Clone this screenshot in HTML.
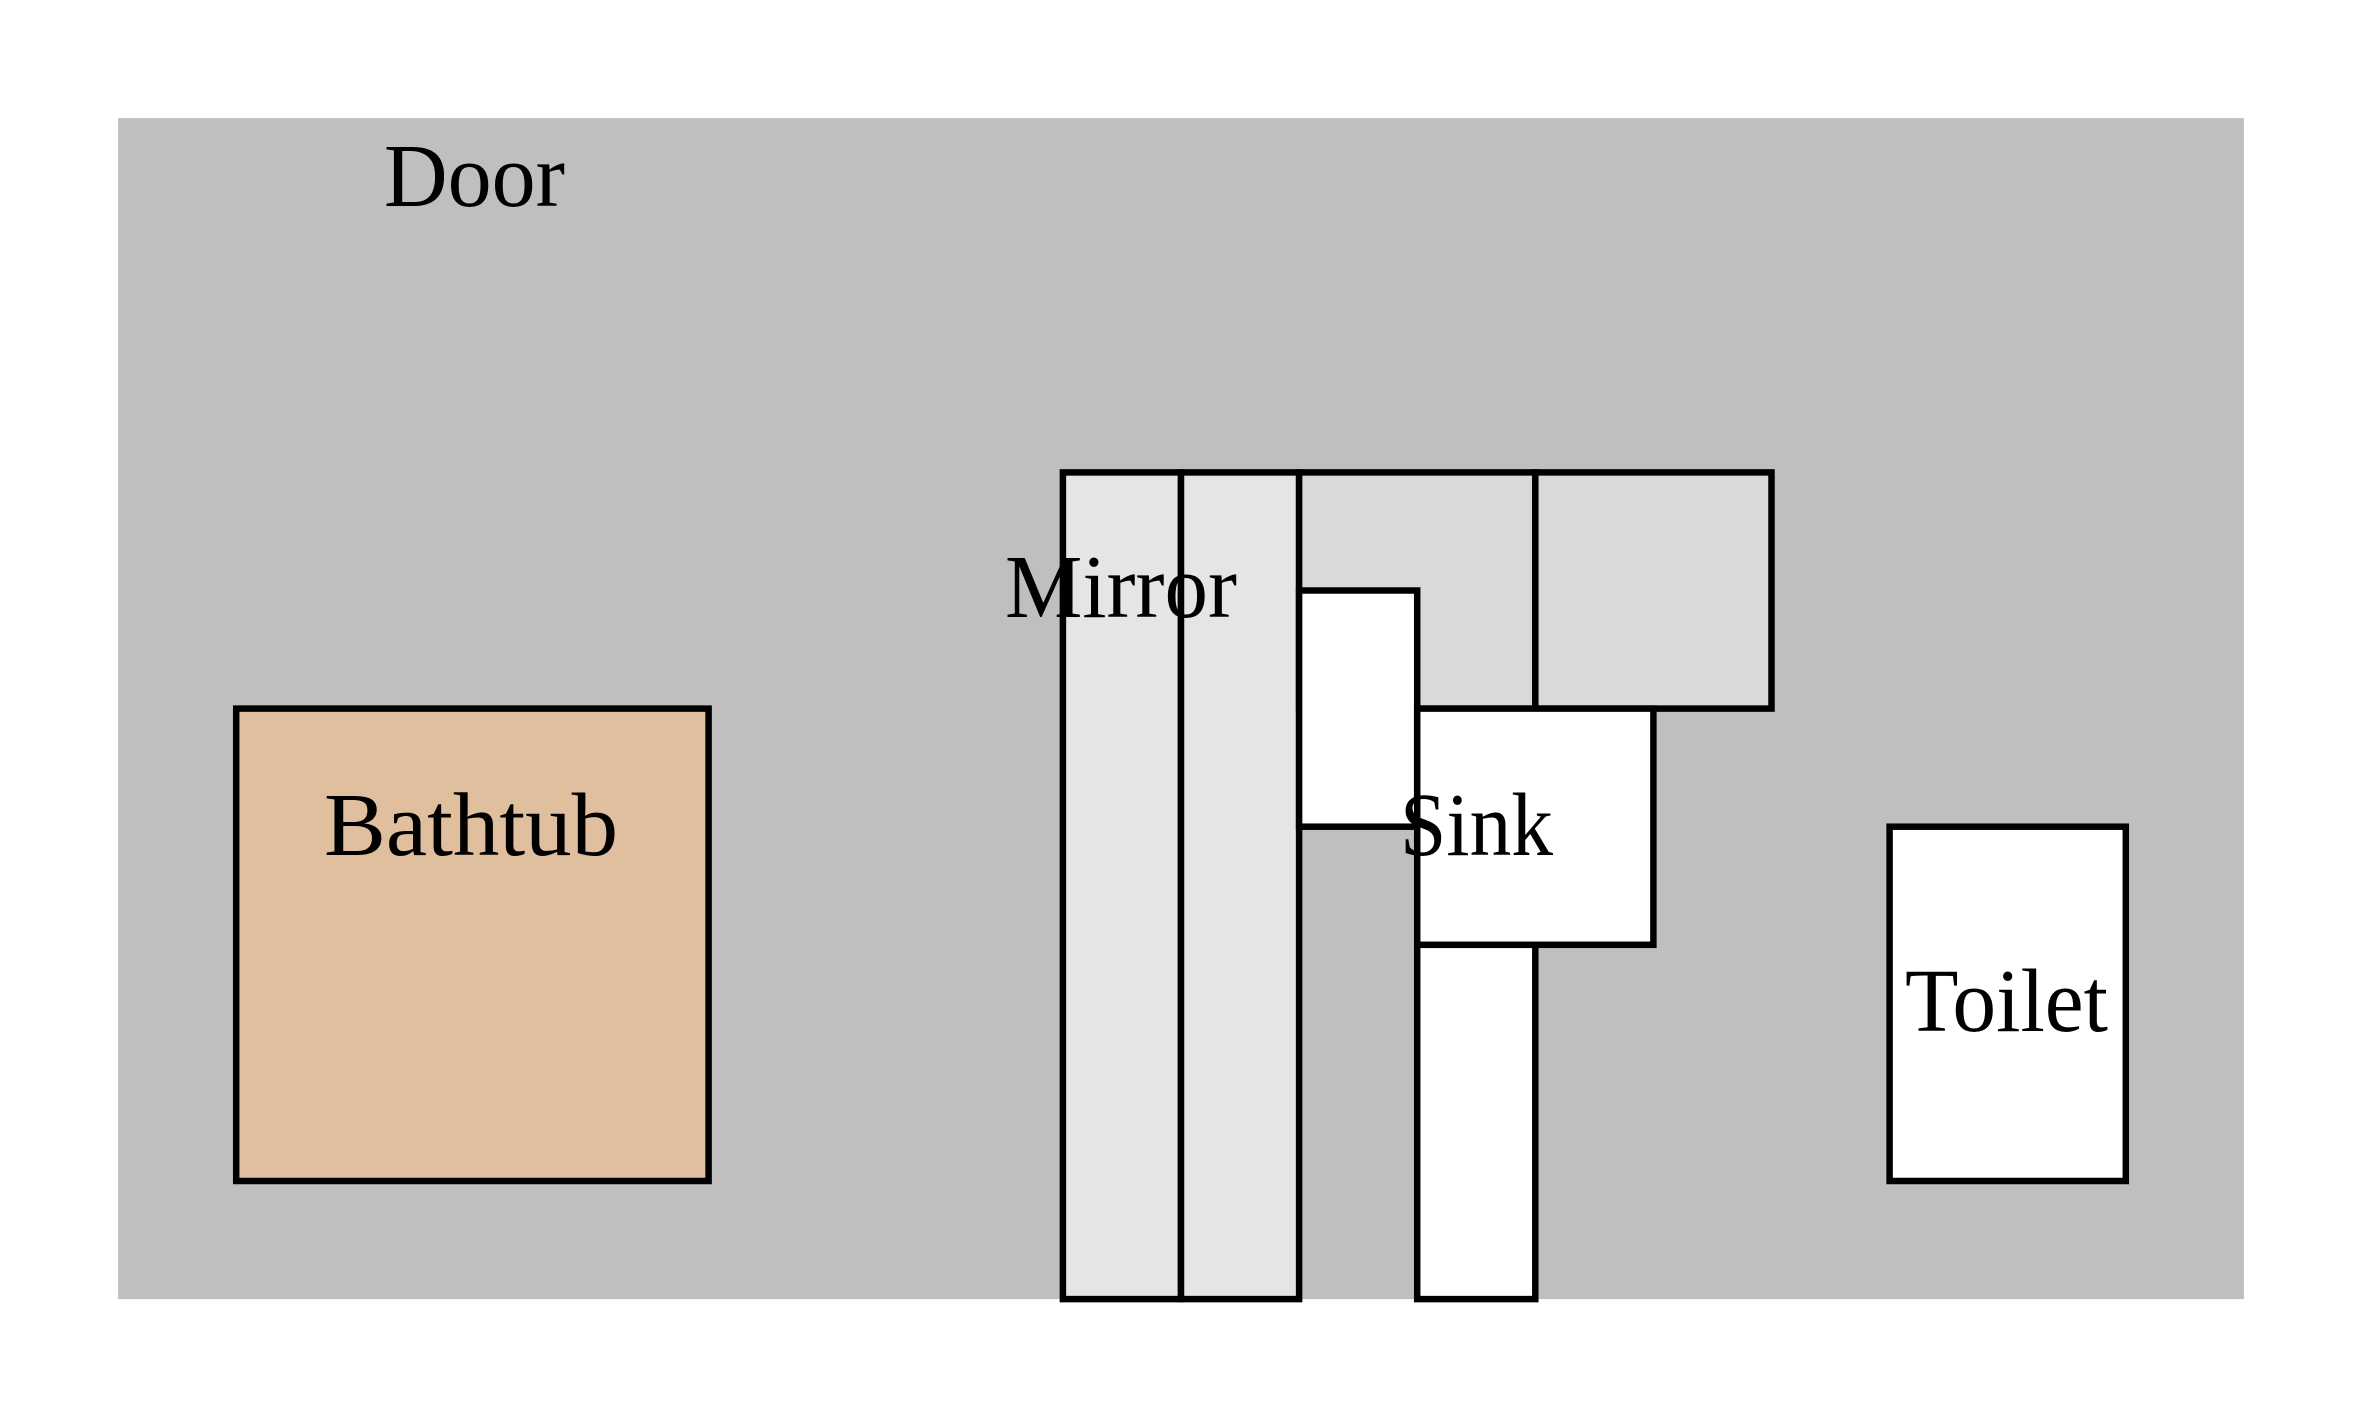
<!DOCTYPE html>
<html><head><meta charset="utf-8"><style>html,body{margin:0;padding:0;background:#fff}svg{display:block}</style></head>
<body>
<svg width="2363" height="1418" viewBox="0 0 2363 1418" xmlns="http://www.w3.org/2000/svg">
<g transform="scale(118.1)">
<rect x="1" y="1" width="18" height="10" fill="#bfbfbf"/>
<g stroke="#000" stroke-width="0.055" stroke-linejoin="miter">
<rect x="2" y="6" width="4" height="4" fill="#e0bf9f"/>
<rect x="9" y="4" width="1" height="7" fill="#e5e5e5"/>
<rect x="10" y="4" width="1" height="7" fill="#e5e5e5"/>
<rect x="11" y="4" width="2" height="2" fill="#d9d9d9"/>
<rect x="13" y="4" width="2" height="2" fill="#d9d9d9"/>
<rect x="11" y="5" width="1" height="2" fill="#fff"/>
<rect x="12" y="8" width="1" height="3" fill="#fff"/>
<rect x="12" y="6" width="2" height="2" fill="#fff"/>
<rect x="16" y="7" width="2" height="3" fill="#fff"/>
</g>
</g>
<g font-family="'Liberation Serif', serif" font-size="90" fill="#000">
<text x="384" y="206" textLength="181" lengthAdjust="spacingAndGlyphs">Door</text>
<text x="324" y="855" textLength="294" lengthAdjust="spacingAndGlyphs">Bathtub</text>
<text x="1005" y="617" textLength="232" lengthAdjust="spacingAndGlyphs">Mirror</text>
<text x="1400" y="855" textLength="153" lengthAdjust="spacingAndGlyphs">Sink</text>
<text x="1905" y="1031" textLength="203" lengthAdjust="spacingAndGlyphs">Toilet</text>
</g>
</svg>
</body></html>
